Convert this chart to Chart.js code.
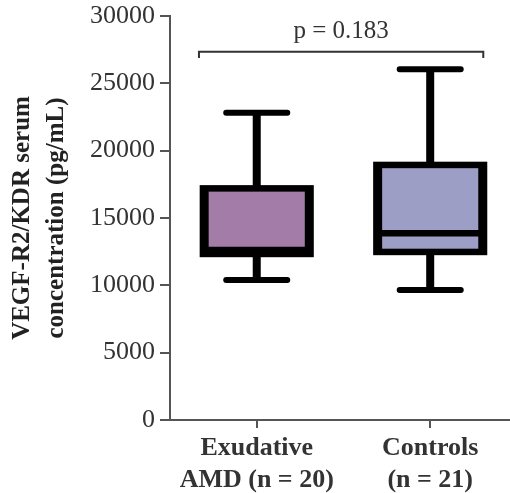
<!DOCTYPE html>
<html>
<head>
<meta charset="utf-8">
<script src="https://cdn.jsdelivr.net/npm/chart.js@4/dist/chart.umd.min.js"></script>
<style>
  html, body { margin: 0; padding: 0; background: #fff; }
  #wrap { width: 510px; height: 493px; }
</style>
</head>
<body>
<div id="wrap"><canvas id="myChart" width="510" height="493"></canvas></div>
<script>
// data
const groups = [['Exudative', 'AMD (n = 20)'], ['Controls', '(n = 21)']];
const whiskerMin = [10400, 9650];
const q1 = [12330, 12480];
const median = [12630, 13870];
const q3 = [17200, 18940];
const whiskerMax = [22820, 26040];
const boxColors = ['#a37ca8', '#9d9ec5'];
const yTicks = [0, 5000, 10000, 15000, 20000, 25000, 30000];
const pText = 'p = 0.183';

const serif = '"Liberation Serif", "Times New Roman", serif';

// draws the boxes, whiskers and the p-value bracket
const boxPlot = {
    id: 'boxPlot',
    afterDatasetsDraw(chart) {
        const ctx = chart.ctx;
        const x = chart.scales.x, y = chart.scales.y;
        const halfBox = 0.303, halfCap = 0.176;
        const sideW = 9, lineW = 6.5;

        ctx.save();
        for (let i = 0; i < groups.length; i++) {
            const cx = x.getPixelForValue(i);
            const left = x.getPixelForValue(i - halfBox);
            const right = x.getPixelForValue(i + halfBox);
            const yMin = y.getPixelForValue(whiskerMin[i]);
            const yMax = y.getPixelForValue(whiskerMax[i]);
            const yQ1 = y.getPixelForValue(q1[i]);
            const yQ3 = y.getPixelForValue(q3[i]);
            const yMed = y.getPixelForValue(median[i]);

            // whisker stems
            ctx.strokeStyle = '#000';
            ctx.lineCap = 'butt';
            ctx.lineWidth = 8;
            ctx.beginPath();
            ctx.moveTo(cx, yQ3); ctx.lineTo(cx, yMax);
            ctx.moveTo(cx, yQ1); ctx.lineTo(cx, yMin);
            ctx.stroke();

            // caps
            ctx.lineCap = 'round';
            ctx.lineWidth = 6;
            ctx.beginPath();
            ctx.moveTo(x.getPixelForValue(i - halfCap), yMax);
            ctx.lineTo(x.getPixelForValue(i + halfCap), yMax);
            ctx.moveTo(x.getPixelForValue(i - halfCap), yMin);
            ctx.lineTo(x.getPixelForValue(i + halfCap), yMin);
            ctx.stroke();

            // box: black frame then the fill
            ctx.fillStyle = '#000';
            ctx.fillRect(left - sideW / 2, yQ3 - lineW / 2,
                right - left + sideW, yQ1 - yQ3 + lineW);
            ctx.fillStyle = boxColors[i];
            ctx.fillRect(left + sideW / 2, yQ3 + lineW / 2,
                right - left - sideW, yQ1 - yQ3 - lineW);

            // median
            ctx.lineCap = 'butt';
            ctx.lineWidth = lineW;
            ctx.beginPath();
            ctx.moveTo(left, yMed); ctx.lineTo(right, yMed);
            ctx.stroke();
        }

        // significance bracket
        const bl = x.getPixelForValue(-0.333), br = x.getPixelForValue(1.306);
        const by = y.getPixelForValue(27350), bEnd = y.getPixelForValue(26880);
        ctx.strokeStyle = '#333';
        ctx.lineWidth = 2;
        ctx.lineCap = 'butt';
        ctx.beginPath();
        ctx.moveTo(bl, bEnd); ctx.lineTo(bl, by); ctx.lineTo(br, by); ctx.lineTo(br, bEnd);
        ctx.stroke();

        ctx.fillStyle = '#333';
        ctx.font = '25px ' + serif;
        ctx.textAlign = 'center';
        ctx.textBaseline = 'middle';
        ctx.fillText(pText, (bl + br) / 2, y.getPixelForValue(28830));
        ctx.restore();
    }
};

const ctx = document.getElementById('myChart').getContext('2d');
const myChart = new Chart(ctx, {
    type: 'scatter',
    data: {
        datasets: [{
            data: median.map((m, i) => ({ x: i, y: m })),
            pointRadius: 0,
            pointHoverRadius: 0
        }]
    },
    options: {
        responsive: false,
        animation: false,
        events: [],
        layout: { padding: { top: 16, right: 0, left: 0, bottom: 0 } },
        plugins: {
            legend: { display: false },
            tooltip: { enabled: false }
        },
        scales: {
            x: {
                type: 'linear',
                min: -0.5,
                max: 1.46,
                afterBuildTicks: scale => {
                    scale.ticks = groups.map((g, i) => ({ value: i }));
                },
                afterFit: scale => {
                    scale.height = 73;
                    scale.paddingLeft = 0;
                    scale.paddingRight = 0;
                },
                grid: {
                    drawOnChartArea: false,
                    drawTicks: true,
                    tickLength: 8,
                    tickColor: '#555',
                    lineWidth: 2
                },
                border: { display: true, color: '#555', width: 2 },
                ticks: {
                    padding: 4,
                    color: '#333',
                    maxRotation: 0,
                    autoSkip: false,
                    font: { family: serif, size: 26, weight: 'bold', lineHeight: 1.23 },
                    callback: value => groups[value]
                }
            },
            y: {
                min: 0,
                max: 30000,
                afterBuildTicks: scale => {
                    scale.ticks = yTicks.map(v => ({ value: v }));
                },
                afterFit: scale => {
                    scale.width = 170;
                    scale.paddingTop = 0;
                    scale.paddingBottom = 0;
                },
                grid: {
                    drawOnChartArea: false,
                    drawTicks: true,
                    tickLength: 10,
                    tickColor: '#555',
                    lineWidth: 2
                },
                border: { display: true, color: '#555', width: 2 },
                ticks: {
                    padding: 5,
                    color: '#333',
                    font: { family: serif, size: 26 },
                    callback: value => String(value)
                },
                title: {
                    display: true,
                    text: ['VEGF-R2/KDR serum', 'concentration (pg/mL)'],
                    color: '#222',
                    padding: { top: 6, bottom: 0 },
                    font: { family: serif, size: 25, weight: 'bold', lineHeight: 1.36 }
                }
            }
        }
    },
    plugins: [boxPlot]
});
</script>
</body>
</html>
